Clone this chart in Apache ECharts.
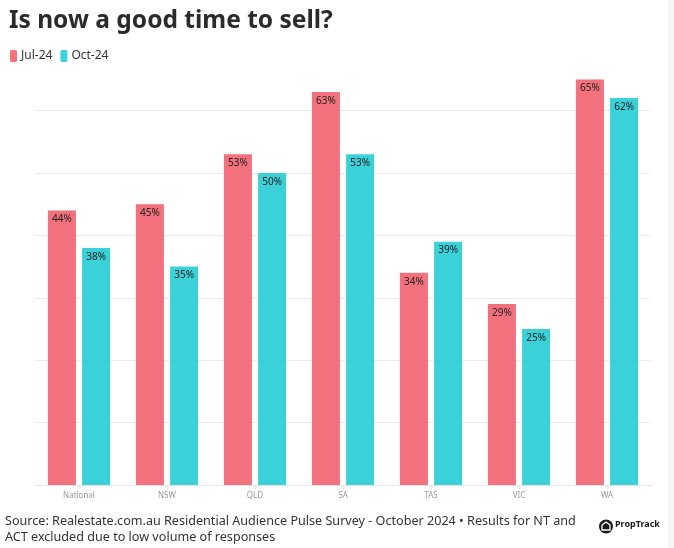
<!DOCTYPE html>
<html>
<head>
<meta charset="utf-8">
<script src="https://cdn.jsdelivr.net/npm/echarts@6/dist/echarts.min.js"></script>
<style>html,body{margin:0;padding:0;background:#fff}#c{width:674px;height:548px}</style>
</head>
<body>
<div id="c"></div>
<script>
var categories = ['National', 'NSW', 'QLD', 'SA', 'TAS', 'VIC', 'WA'];
var jul24 = [44, 45, 53, 63, 34, 29, 65];
var oct24 = [38, 35, 50, 53, 39, 25, 62];
var seriesNames = ['Jul-24', 'Oct-24'];

var chart = echarts.init(document.getElementById('c'), null, {renderer: 'canvas'});
var labelCfg = {
  show: true, position: 'insideTop', distance: 4,
  formatter: '{c}%', color: '#222', fontSize: 10, fontFamily: 'Noto Sans'
};
chart.setOption({
  animation: false,
  backgroundColor: '#fff',
  title: {
    text: 'Is now a good time to sell?',
    left: 4, top: 4,
    textStyle: {fontFamily: 'Noto Sans', fontWeight: 'bold', fontSize: 24.5, color: '#2b2b2b'}
  },
  legend: {
    left: 5, top: 45, itemWidth: 7, itemHeight: 12, itemGap: 8, icon: 'roundRect',
    textStyle: {fontFamily: 'Noto Sans', fontSize: 12, color: '#333', padding: [0,0,0,-1]},
    data: seriesNames
  },
  grid: {left: 35, right: 23, top: 79.4, bottom: 63, containLabel: false},
  xAxis: {
    type: 'category', data: categories,
    axisLine: {lineStyle: {color: '#e4e4e4'}},
    axisTick: {show: true, alignWithLabel: true, length: 4, lineStyle: {color: '#e4e4e4'}},
    axisLabel: {color: '#999', fontSize: 8, fontFamily: 'Noto Sans', margin: 7}
  },
  yAxis: {
    type: 'value', min: 0, max: 65, interval: 10,
    axisLabel: {show: false}, axisLine: {show: false}, axisTick: {show: false},
    splitLine: {show: true, showMaxLine: false, showMinLine: false, lineStyle: {color: '#ececec'}}
  },
  series: [
    {name: seriesNames[0], type: 'bar', data: jul24, barWidth: 28, barGap: '22%',
     itemStyle: {color: '#F3717D'}, label: labelCfg},
    {name: seriesNames[1], type: 'bar', data: oct24, barWidth: 28,
     itemStyle: {color: '#3BD1D8'}, label: labelCfg}
  ],
  graphic: [
    {type: 'rect', shape: {x: 668, y: 0, width: 6, height: 548}, style: {fill: '#f6f6f6'}, silent: true},
    {type: 'text', left: 5, top: 513, style: {
      text: 'Source: Realestate.com.au Residential Audience Pulse Survey - October 2024 \u2022 Results for NT and\nACT excluded due to low volume of responses',
      fontFamily: 'Noto Sans', fontSize: 12.6, lineHeight: 16, fill: '#333'}},
    {type: 'circle', shape: {cx: 606, cy: 526.5, r: 7}, style: {fill: '#1a1a1a'}},
    {type: 'polygon', shape: {points: [[606, 522], [610, 525], [610, 530], [602, 530], [602, 525]]},
     style: {fill: 'none', stroke: '#fff', lineWidth: 1.3}},
    {type: 'text', left: 615, top: 520, style: {text: 'PropTrack', fontFamily: 'Noto Sans', fontWeight: 'bold', fontSize: 9, fill: '#1a1a1a'}}
  ]
});
</script>
</body>
</html>
